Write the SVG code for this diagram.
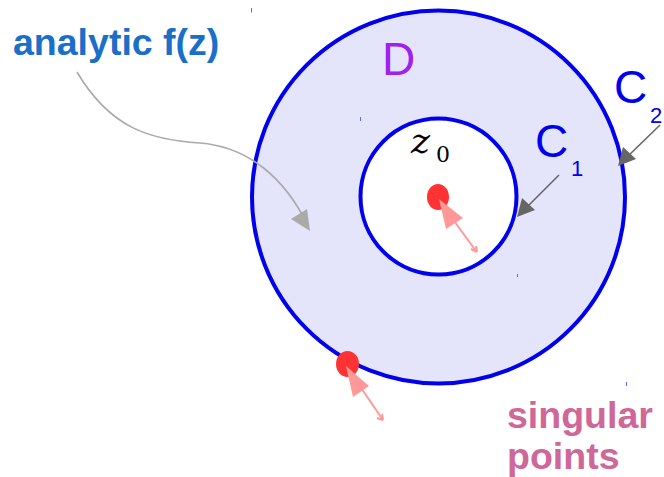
<svg xmlns="http://www.w3.org/2000/svg" width="664" height="477" viewBox="0 0 664 477">
<style>
.ring{stroke:#0000ee;stroke-width:4}
.lbl{font-family:"Liberation Sans",Arial,sans-serif}
.bold{font-weight:bold;font-size:37.5px}
.blue{fill:#0000ee}
.ptr{stroke:#666;stroke-width:1.6;fill:none}
.pk{stroke:#ff9999;stroke-width:2;fill:none}
.tick{stroke:#6666ff;stroke-width:1}
</style>
<rect width="664" height="477" fill="#fff"/>
<g id="outer-region">
<circle class="ring" cx="438.5" cy="197" r="186.5" fill="#e4e4fb"/>
</g>
<g id="inner-disk">
<circle class="ring" cx="438.5" cy="196.5" r="78" fill="#fff"/>
</g>
<g id="ticks">
<line class="tick" x1="251.5" y1="8" x2="251.5" y2="12.5"/>
<line class="tick" x1="360.5" y1="117" x2="360.5" y2="121"/>
<line class="tick" x1="517.5" y1="274" x2="517.5" y2="277"/>
<line class="tick" x1="626.5" y1="382" x2="626.5" y2="386"/>
</g>
<g id="connectors">
<path d="M77,72 C110,128 150,140 200,143 C250,147 285,180 306,222" fill="none" stroke="#aaa" stroke-width="1.6"/>
<path d="M291,219 L310,231 L307,209 z" fill="#aaa"/>
<line class="ptr" x1="559" y1="175" x2="524" y2="210"/>
<path d="M517,217 L522,198 L535,210 z" fill="#666"/>
<line class="ptr" x1="660" y1="125" x2="625" y2="159"/>
<path d="M618,166 L623,147 L636,159 z" fill="#666"/>
</g>
<g id="singular-center">
<ellipse cx="438" cy="197" rx="11" ry="13" fill="#ff3333"/>
<line class="pk" x1="476" y1="251" x2="449" y2="214"/>
<path d="M439,199 L446,229 L463,218 z" fill="#ff9999"/>
<path d="M477,252 L471,249 M477,252 L476,246" class="pk" stroke-width="1.5"/>
</g>
<g id="singular-edge">
<ellipse cx="347.5" cy="364" rx="11.5" ry="13" fill="#ff3333"/>
<line class="pk" x1="383" y1="420" x2="357" y2="382"/>
<path d="M346,366 L353,397 L369,386 z" fill="#ff9999"/>
<path d="M383,420 L377,418 M383,420 L382,414" class="pk" stroke-width="1.5"/>
</g>
<g id="labels">
<text class="lbl bold" x="13" y="55" fill="#1a6fc9">analytic f(z)</text>
<text class="lbl" x="382" y="75" font-size="46" fill="#a020f0">D</text>
<text x="411" y="153" font-family="'DejaVu Serif',serif" font-style="italic" font-size="36" fill="#000">z</text>
<text x="436" y="162" font-family="'DejaVu Serif',serif" font-size="22" fill="#000">0</text>
<text class="lbl blue" x="535" y="157" font-size="46">C</text>
<text class="lbl blue" x="571" y="176" font-size="22">1</text>
<text class="lbl blue" x="614" y="103" font-size="46">C</text>
<text class="lbl blue" x="650" y="123" font-size="22">2</text>
<text class="lbl bold" x="507" y="428" fill="#cf6799">singular</text>
<text class="lbl bold" x="507" y="469" fill="#cf6799">points</text>
</g>
</svg>
